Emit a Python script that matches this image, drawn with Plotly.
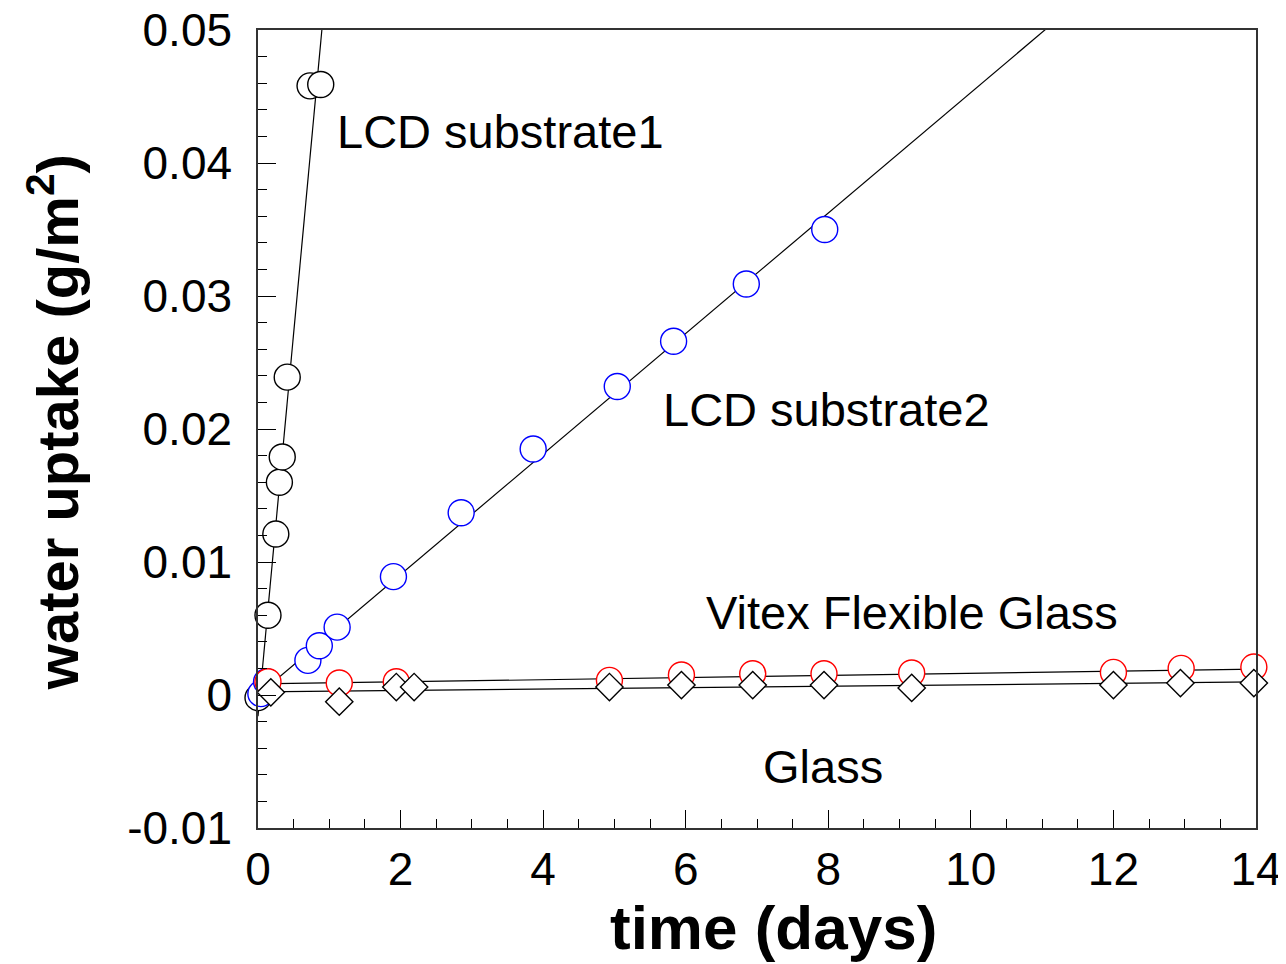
import plotly.graph_objects as go
import numpy as np

# ---- data ----
lcd1_x = [0.0, 0.14, 0.25, 0.30, 0.34, 0.41, 0.73, 0.88]
lcd1_y = [-0.0002, 0.0060, 0.0121, 0.0160, 0.0179, 0.0239, 0.0458, 0.0459]

lcd2_x = [0.04, 0.12, 0.70, 0.86, 1.11, 1.90, 2.85, 3.86, 5.04, 5.83, 6.85, 7.95]
lcd2_y = [0.0001, 0.0010, 0.0026, 0.0037, 0.0051, 0.0089, 0.0137, 0.0185, 0.0232, 0.0266, 0.0309, 0.0350]

vitex_x = [0.14, 1.14, 1.94, 4.93, 5.94, 6.94, 7.94, 9.17, 12.0, 12.95, 13.97]
vitex_y = [0.0010, 0.0009, 0.0010, 0.0011, 0.0015, 0.0016, 0.0016, 0.00165, 0.0017, 0.0020, 0.0021]

glass_x = [0.18, 1.14, 1.94, 2.19, 4.93, 5.94, 6.94, 7.94, 9.17, 12.0, 12.94, 13.97]
glass_y = [0.0002, -0.0005, 0.0006, 0.0006, 0.0006, 0.00075, 0.00075, 0.00075, 0.00053, 0.00075, 0.0009, 0.0009]

# linear fit lines (slope per day, intercept)
fit_slope = {"lcd1": 0.0576, "lcd2": 0.00453, "vitex": 0.00008, "glass": 0.0000536}
fit_intercept = {"lcd1": -0.0016, "lcd2": 0.0, "vitex": 0.00083, "glass": 0.00023}

x_ticks = [0, 2, 4, 6, 8, 10, 12, 14]
x_ticklabels = ["0", "2", "4", "6", "8", "10", "12", "14"]
y_ticks = [-0.01, 0, 0.01, 0.02, 0.03, 0.04, 0.05]
y_ticklabels = ["-0.01", "0", "0.01", "0.02", "0.03", "0.04", "0.05"]

labels = ["LCD substrate1", "LCD substrate2", "Vitex Flexible Glass", "Glass"]
label_x = [1.08, 5.65, 6.25, 7.05]
label_y = [0.0424, 0.0215, 0.0062, -0.0054]

FONT = "Liberation Sans, Arial, sans-serif"

fig = go.Figure()

# fit lines first (beneath markers)
xfit = np.array([0.0, 14.0])
for key in ["lcd1", "lcd2", "vitex", "glass"]:
    fig.add_trace(go.Scatter(
        x=xfit, y=fit_intercept[key] + fit_slope[key] * xfit,
        mode="lines", line=dict(color="black", width=1.2),
        showlegend=False, hoverinfo="skip"))

def markers(x, y, color, symbol, size):
    fig.add_trace(go.Scatter(
        x=x, y=y, mode="markers", cliponaxis=False, showlegend=False,
        marker=dict(symbol=symbol, size=size, color="white",
                    line=dict(color=color, width=1.4))))

markers(lcd1_x, lcd1_y, "black", "circle", 26)
markers(lcd2_x, lcd2_y, "#0000ff", "circle", 26)
markers(vitex_x, vitex_y, "#ff0000", "circle", 26)
markers(glass_x, glass_y, "black", "diamond", 21)

for t, lx, ly in zip(labels, label_x, label_y):
    fig.add_annotation(x=lx, y=ly, text=t, showarrow=False, xanchor="left",
                       yanchor="middle", font=dict(family=FONT, size=47, color="black"))

# axis titles
fig.add_annotation(xref="paper", yref="paper", x=0.517, y=-0.125, text="<b>time (days)</b>",
                   showarrow=False, xanchor="center", yanchor="middle",
                   font=dict(family=FONT, size=62, color="black"))
fig.add_annotation(xref="paper", yref="paper", x=-0.205, y=0.509,
                   text="<b>water uptake (g/m<sup>2</sup>)</b>", textangle=-90,
                   showarrow=False, xanchor="center", yanchor="middle",
                   font=dict(family=FONT, size=58, color="black"))

fig.update_xaxes(range=[0, 14], tickvals=x_ticks, ticktext=x_ticklabels,
                 ticks="inside", ticklen=18, tickwidth=1.2, tickcolor="black",
                 showline=True, linecolor="#333", linewidth=1.5, mirror=True,
                 showgrid=False, zeroline=False, ticklabelstandoff=0,
                 ticklabeloverflow="allow",
                 tickfont=dict(family=FONT, size=46, color="black"),
                 minor=dict(dtick=0.5, ticks="inside", ticklen=9, tickwidth=1.0, tickcolor="black", showgrid=False))
fig.update_yaxes(range=[-0.01, 0.05], tickvals=y_ticks, ticktext=y_ticklabels,
                 ticks="inside", ticklen=18, tickwidth=1.2, tickcolor="black",
                 showline=True, linecolor="#333", linewidth=1.5, mirror=True,
                 showgrid=False, zeroline=False, ticklabelstandoff=15,
                 ticklabeloverflow="allow",
                 tickfont=dict(family=FONT, size=46, color="black"),
                 minor=dict(dtick=0.002, ticks="inside", ticklen=9, tickwidth=1.0, tickcolor="black", showgrid=False))

# page body has an 8px offset: compensate so the plot area lands at 258..1256 x 30..828
fig.update_layout(width=1286, height=964,
                  margin=dict(l=250, r=38, t=22, b=144, autoexpand=False),
                  plot_bgcolor="white", paper_bgcolor="white", showlegend=False)

fig.write_html("out.html")
